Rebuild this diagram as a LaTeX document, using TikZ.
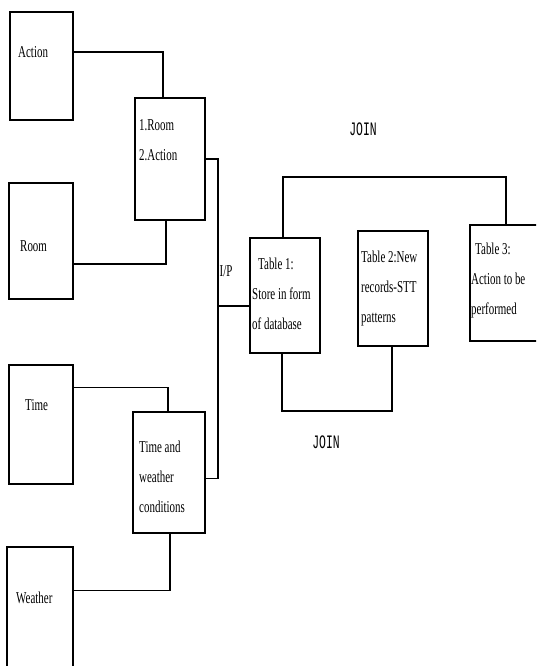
\documentclass[tikz,border=0pt]{standalone}
\usepackage{fontspec}
\setmainfont{Liberation Serif}[FakeStretch=0.66]
\newfontfamily\joinfont{Liberation Mono}[FakeStretch=0.6]
\begin{document}
\begin{tikzpicture}[x=1pt, y=-1pt,
    font=\fontsize{16.6}{30}\selectfont,
    box/.style={draw, line width=1.2pt, inner sep=0pt},
    txt/.style={inner sep=0pt, anchor=north west, align=left},
    joinlbl/.style={inner sep=0pt, font=\joinfont\fontsize{19}{22}\selectfont},
    wire/.style={line width=1.2pt}]
  \useasboundingbox (0,0) rectangle (536,666);
  \clip (0,0) rectangle (536,666);
  % input boxes
  \node[box, minimum width=63, minimum height=108] (action) at (41.5, 66) {};
  \node[box, minimum width=64, minimum height=116] (room) at (41, 241) {};
  \node[box, minimum width=64, minimum height=119] (time) at (41, 424.5) {};
  \node[box, minimum width=66, minimum height=121] (weather) at (40, 607.5) {};
  \node[txt] (action-l) at (18, 46) {Action};
  \node[txt] (room-l) at (20, 240) {Room};
  \node[txt] (time-l) at (25, 399) {Time};
  \node[txt] (weather-l) at (16, 592) {Weather};
  % combined boxes
  \node[box, minimum width=70, minimum height=122] (rooms) at (170, 159) {};
  \node[box, minimum width=72, minimum height=121] (tw) at (169, 472.5) {};
  \node[txt] (rooms-l) at (139, 119) {1.Room\\2.Action};
  \node[txt] (tw-l) at (139, 441) {Time and\\weather\\conditions};
  % tables
  \node[box, minimum width=70, minimum height=115] (table1) at (285, 295.5) {};
  \node[box, minimum width=70, minimum height=115] (table2) at (393, 288.5) {};
  \node[box, minimum width=90, minimum height=116] (table3) at (515, 283) {};
  \node[txt] (table1-l) at (252, 258) {\hspace*{6pt}Table 1:\\Store in form\\of database};
  \node[txt] (table2-l) at (361, 251) {Table 2:New\\records-STT\\patterns};
  \node[txt] (table3-l) at (471, 243) {\hspace*{4pt}Table 3:\\Action to be\\performed};
  % labels
  \node[joinlbl] (join-top) at (363, 129) {JOIN};
  \node[joinlbl] (join-bot) at (326, 442) {JOIN};
  \node (ip) at (226, 271) {I/P};
  \coordinate (bus) at (218, 306);
  \coordinate (jtop) at (400, 177);
  \coordinate (jbot) at (330, 411);
  % connectors
  \draw[wire] ([yshift=14]action.east) -| ([xshift=-7]rooms.north);
  \draw[wire] ([yshift=-23]room.east) -| ([xshift=-4]rooms.south);
  \draw[wire] ([yshift=37]time.east) -| ([xshift=-1]tw.north);
  \draw[wire] ([yshift=17]weather.east) -| ([xshift=1]tw.south);
  \draw[wire] (rooms.east) -| (bus) |- ([yshift=-6]tw.east);
  \draw[wire] (bus) -- (bus -| table1.west);
  \draw[wire] ([xshift=-2]table1.north) |- (jtop) -| ([xshift=-9]table3.north);
  \draw[wire] ([xshift=-3]table1.south) |- (jbot) -| ([xshift=-1]table2.south);
\end{tikzpicture}
\end{document}
